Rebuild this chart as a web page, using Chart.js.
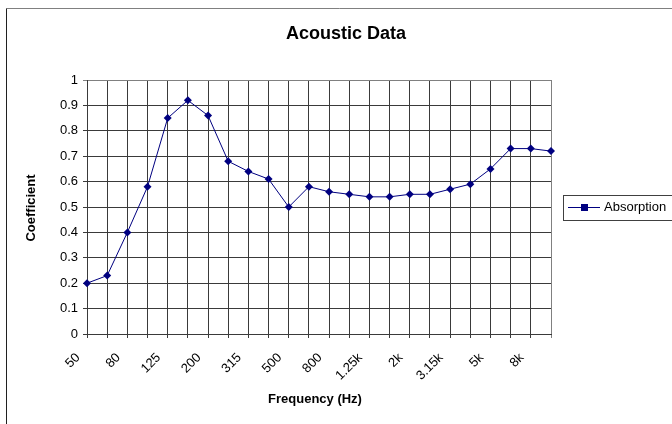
<!DOCTYPE html>
<html>
<head>
<meta charset="utf-8">
<script src="https://cdn.jsdelivr.net/npm/chart.js@4"></script>
<style>
  html, body { margin: 0; padding: 0; background: #fff; }
  #wrap { width: 672px; height: 424px; position: relative; }
</style>
</head>
<body>
<div id="wrap"><canvas id="c" width="672" height="424"></canvas></div>
<script>
const categories = ['50','63','80','100','125','160','200','250','315','400','500','630','800','1k','1.25k','1.6k','2k','2.5k','3.15k','4k','5k','6.3k','8k','10k'];
const absorption = [0.20,0.23,0.40,0.58,0.85,0.92,0.86,0.68,0.64,0.61,0.50,0.58,0.56,0.55,0.54,0.54,0.55,0.55,0.57,0.59,0.65,0.73,0.73,0.72];
const seriesName = 'Absorption';
const chartTitle = 'Acoustic Data';
const xTitle = 'Frequency (Hz)';
const yTitle = 'Coefficient';

const FONT = '"Liberation Sans", Arial, sans-serif';
const NAVY = '#000080';

const decor = {
  id: 'decor',
  beforeDraw(chart) {
    const ctx = chart.ctx;
    ctx.save();
    ctx.fillStyle = '#fff';
    ctx.fillRect(0, 0, chart.width, chart.height);
    // outer chart border
    ctx.lineWidth = 1;
    ctx.strokeStyle = '#808080';
    ctx.beginPath(); ctx.moveTo(6.5, 8.5); ctx.lineTo(700, 8.5); ctx.stroke();
    ctx.strokeStyle = '#202020';
    ctx.beginPath(); ctx.moveTo(6.5, 8.5); ctx.lineTo(6.5, 440); ctx.stroke();
    ctx.restore();
  },
  afterDraw(chart) {
    const ctx = chart.ctx;
    ctx.save();
    ctx.fillStyle = '#000';
    ctx.textAlign = 'center';
    ctx.textBaseline = 'middle';
    ctx.font = 'bold 18px ' + FONT;
    ctx.fillText(chartTitle, 346, 34);
    ctx.font = 'bold 13px ' + FONT;
    ctx.fillText(xTitle, 315, 399);
    ctx.save();
    ctx.translate(31, 208);
    ctx.rotate(-Math.PI / 2);
    ctx.fillText(yTitle, 0, 0);
    ctx.restore();
    // legend
    ctx.strokeStyle = '#404040';
    ctx.lineWidth = 1;
    ctx.strokeRect(563.5, 195.5, 130, 25);
    ctx.strokeStyle = NAVY;
    ctx.beginPath(); ctx.moveTo(568, 207.5); ctx.lineTo(600, 207.5); ctx.stroke();
    ctx.fillStyle = NAVY;
    ctx.fillRect(581, 204, 7, 7);
    ctx.fillStyle = '#000';
    ctx.textAlign = 'left';
    ctx.font = '13px ' + FONT;
    ctx.fillText(seriesName, 604, 207);
    ctx.restore();
  }
};

new Chart(document.getElementById('c'), {
  type: 'line',
  data: {
    labels: categories,
    datasets: [{
      label: seriesName,
      data: absorption,
      borderColor: NAVY,
      backgroundColor: NAVY,
      borderWidth: 1,
      pointStyle: 'rectRot',
      pointRadius: 4,
      pointBorderWidth: 0,
      pointBackgroundColor: NAVY,
      tension: 0,
      fill: false
    }]
  },
  options: {
    responsive: false,
    animation: false,
    devicePixelRatio: 1,
    layout: { padding: { top: 80, right: 121, left: 0, bottom: 0 } },
    plugins: {
      legend: { display: false },
      title: { display: false },
      tooltip: { enabled: false }
    },
    scales: {
      x: {
        type: 'category',
        offset: false,
        afterFit(scale) { scale.height = 90; },
        grid: {
          display: true,
          color: (c) => (c.index === categories.length - 1 ? '#808080' : '#3a3a3a'),
          lineWidth: 1,
          tickLength: 4,
          drawTicks: true
        },
        border: { display: true, color: '#3a3a3a', width: 1 },
        ticks: {
          autoSkip: false,
          maxRotation: 45,
          minRotation: 45,
          padding: 12,
          labelOffset: -9,
          color: '#000',
          font: { family: FONT, size: 13 },
          callback: function (v, i) { return i % 2 === 0 ? categories[i] : ''; }
        }
      },
      y: {
        min: 0,
        max: 1,
        afterFit(scale) { scale.width = 87; },
        grid: {
          color: (c) => (c.tick && c.tick.value === 1 ? '#808080' : '#3a3a3a'),
          lineWidth: 1,
          tickLength: 4
        },
        border: { display: true, color: '#3a3a3a', width: 1 },
        ticks: {
          stepSize: 0.1,
          padding: 5,
          color: '#000',
          font: { family: FONT, size: 13 },
          callback: (v) => String(Math.round(v * 10) / 10)
        }
      }
    }
  },
  plugins: [decor]
});
</script>
</body>
</html>
